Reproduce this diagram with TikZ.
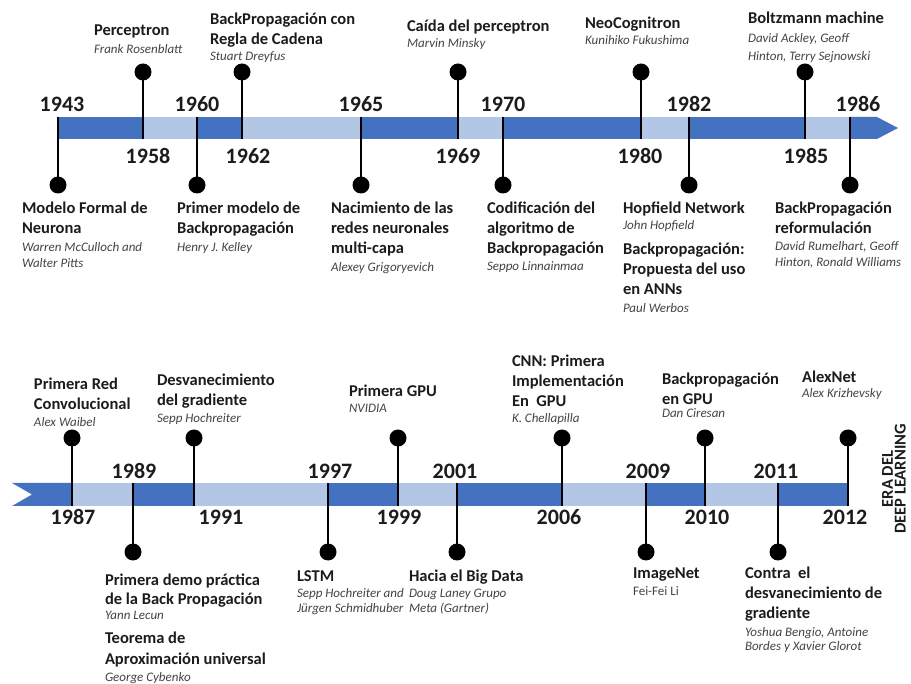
\documentclass[tikz,border=0pt]{standalone}
\usepackage{fontspec}
\setmainfont{Carlito}
\definecolor{bardark}{RGB}{68,114,192}
\definecolor{barlight}{RGB}{180,198,230}
\definecolor{ink}{RGB}{28,28,28}
\definecolor{namegray}{RGB}{68,68,68}
\newcommand\tstr{\rule{0pt}{14pt}}
\newcommand\nstr{\rule{0pt}{11.2pt}}
\tikzset{
  ttl/.style={anchor=north west, inner sep=0pt, outer sep=0pt, align=left, text=ink, yshift=14pt,
    font=\bfseries\fontsize{16.5}{20}\selectfont},
  nm/.style={anchor=north west, inner sep=0pt, outer sep=0pt, align=left, text=namegray, yshift=11.2pt,
    font=\itshape\fontsize{13}{16}\selectfont},
  nmup/.style={nm, font=\upshape\fontsize{13}{16}\selectfont},
  yr/.style={anchor=base, inner sep=0pt, text=ink, font=\bfseries\fontsize{22}{26}\selectfont},
  dot/.style={circle, fill=black, inner sep=0pt, minimum size=17pt},
  stem/.style={draw=black, line width=1.8pt},
}
\begin{document}
\begin{tikzpicture}[x=1pt,y=-1pt]
\fill[white] (0,0) rectangle (911,684);
\useasboundingbox (0,0) rectangle (911,684);

% ---------- bar edges ----------
\coordinate (at) at (0,117); \coordinate (ab) at (0,139);
\coordinate (bt) at (0,483); \coordinate (bb) at (0,506);

% ---------- top ticks ----------
\coordinate (t1943) at (58,117);  \coordinate (t1958) at (143,139);
\coordinate (t1960) at (197,117); \coordinate (t1962) at (242,139);
\coordinate (t1965) at (361,117); \coordinate (t1969) at (458,139);
\coordinate (t1970) at (503,117); \coordinate (t1980) at (641,139);
\coordinate (t1982) at (689,117); \coordinate (t1985) at (805,139);
\coordinate (t1986) at (850,117);
% ---------- bottom ticks ----------
\coordinate (t1987) at (72,506);  \coordinate (t1989) at (133,483);
\coordinate (t1991) at (194,506); \coordinate (t1997) at (328,483);
\coordinate (t1999) at (398,506); \coordinate (t2001) at (457,483);
\coordinate (t2006) at (562,506); \coordinate (t2009) at (646,483);
\coordinate (t2010) at (705,506); \coordinate (t2011) at (778,483);
\coordinate (t2012) at (848,506);

% ---------- top bar ----------
\fill[bardark]  (t1943 |- at) rectangle (t1958 |- ab);
\fill[barlight] (t1958 |- at) rectangle (t1960 |- ab);
\fill[bardark]  (t1960 |- at) rectangle (t1962 |- ab);
\fill[barlight] (t1962 |- at) rectangle (t1965 |- ab);
\fill[bardark]  (t1965 |- at) rectangle (t1969 |- ab);
\fill[barlight] (t1969 |- at) rectangle (t1970 |- ab);
\fill[bardark]  (t1970 |- at) rectangle (t1980 |- ab);
\fill[barlight] (t1980 |- at) rectangle (t1982 |- ab);
\fill[bardark]  (t1982 |- at) rectangle (t1985 |- ab);
\fill[barlight] (t1985 |- at) rectangle (t1986 |- ab);
\fill[bardark]  (t1986 |- at) -- (877,117) -- (898,128) -- (877,139) -- (t1986 |- ab) -- cycle;

% ---------- bottom bar ----------
\fill[bardark]  (12,483) -- (t1987 |- bt) -- (t1987 |- bb) -- (12,506) -- (32,494.5) -- cycle;
\fill[barlight] (t1987 |- bt) rectangle (t1989 |- bb);
\fill[bardark]  (t1989 |- bt) rectangle (t1991 |- bb);
\fill[barlight] (t1991 |- bt) rectangle (t1997 |- bb);
\fill[bardark]  (t1997 |- bt) rectangle (t1999 |- bb);
\fill[barlight] (t1999 |- bt) rectangle (t2001 |- bb);
\fill[bardark]  (t2001 |- bt) rectangle (t2006 |- bb);
\fill[barlight] (t2006 |- bt) rectangle (t2009 |- bb);
\fill[bardark]  (t2009 |- bt) rectangle (t2010 |- bb);
\fill[barlight] (t2010 |- bt) rectangle (t2011 |- bb);
\fill[bardark]  (t2011 |- bt) rectangle (t2012 |- bb);

% ---------- top dots ----------
\node[dot] (d1943) at (58,185) {};
\node[dot] (d1958) at (143,72) {};
\node[dot] (d1960) at (197,185) {};
\node[dot] (d1962) at (242,72) {};
\node[dot] (d1965) at (361,185) {};
\node[dot] (d1969) at (458,72) {};
\node[dot] (d1970) at (503,185) {};
\node[dot] (d1980) at (641,72) {};
\node[dot] (d1982) at (689,185) {};
\node[dot] (d1985) at (805,72) {};
\node[dot] (d1986) at (850,185) {};
\foreach \yy in {1943,1958,1960,1962,1965,1969,1970,1980,1982,1985,1986}
  \draw[stem] (t\yy) -- (d\yy.center);

% ---------- bottom dots ----------
\node[dot] (d1987) at (72,438) {};
\node[dot] (d1989) at (133,552) {};
\node[dot] (d1991) at (194,438) {};
\node[dot] (d1997) at (328,552) {};
\node[dot] (d1999) at (398,438) {};
\node[dot] (d2001) at (457,552) {};
\node[dot] (d2006) at (562,438) {};
\node[dot] (d2009) at (646,552) {};
\node[dot] (d2010) at (705,438) {};
\node[dot] (d2011) at (778,552) {};
\node[dot] (d2012) at (848,438) {};
\foreach \yy in {1987,1989,1991,1997,1999,2001,2006,2009,2010,2011,2012}
  \draw[stem] (t\yy) -- (d\yy.center);

% ---------- years ----------
\node[yr] (y1943) at (62,112) {1943};
\node[yr] (y1960) at (197,112) {1960};
\node[yr] (y1965) at (361,112) {1965};
\node[yr] (y1970) at (503,112) {1970};
\node[yr] (y1982) at (689,112) {1982};
\node[yr] (y1986) at (858,112) {1986};
\node[yr] (y1958) at (148,164) {1958};
\node[yr] (y1962) at (248,164) {1962};
\node[yr] (y1969) at (458,164) {1969};
\node[yr] (y1980) at (640,164) {1980};
\node[yr] (y1985) at (806,164) {1985};

\node[yr] (y1989) at (134,479) {1989};
\node[yr] (y1997) at (330,479) {1997};
\node[yr] (y2001) at (455,479) {2001};
\node[yr] (y2009) at (648,479) {2009};
\node[yr] (y2011) at (776,479) {2011};
\node[yr] (y1987) at (73,525) {1987};
\node[yr] (y1991) at (221,525) {1991};
\node[yr] (y1999) at (399,525) {1999};
\node[yr] (y2006) at (559,525) {2006};
\node[yr] (y2010) at (707,525) {2010};
\node[yr] (y2012) at (845,525) {2012};

% ---------- top events above ----------
\node[ttl] (p1) at (94,36) {\tstr Perceptron};
\node[nm]  (p1n) at (94,54) {\nstr Frank Rosenblatt};
\node[ttl] (p2) at (210,25) {\tstr BackPropagación con\\Regla de Cadena};
\node[nm]  (p2n) at (210,61) {\nstr Stuart Dreyfus};
\node[ttl] (p3) at (407,32) {\tstr Caída del perceptron};
\node[nm]  (p3n) at (407,48) {\nstr Marvin Minsky};
\node[ttl] (p4) at (585,29) {\tstr NeoCognitron};
\node[nm]  (p4n) at (585,45) {\nstr Kunihiko Fukushima};
\node[ttl] (p5) at (748,24) {\tstr Boltzmann machine};
\node[nm]  (p5n) at (748,43) {\nstr David Ackley, Geoff\\[2pt]Hinton, Terry Sejnowski};

% ---------- top events below ----------
\node[ttl] (q1) at (22,214) {\tstr Modelo Formal de\\Neurona};
\node[nm]  (q1n) at (22,252) {\nstr Warren McCulloch and\\Walter Pitts};
\node[ttl] (q2) at (177,214) {\tstr Primer modelo de\\Backpropagación};
\node[nm]  (q2n) at (177,252) {\nstr Henry J. Kelley};
\node[ttl] (q3) at (331,214) {\tstr Nacimiento de las\\redes neuronales\\multi-capa};
\node[nm]  (q3n) at (331,272) {\nstr Alexey Grigoryevich};
\node[ttl] (q4) at (487,214) {\tstr Codificación del\\algoritmo de\\Backpropagación};
\node[nm]  (q4n) at (487,271) {\nstr Seppo Linnainmaa};
\node[ttl] (q5) at (623,214) {\tstr Hopfield Network};
\node[nm]  (q5n) at (623,230) {\nstr John Hopfield};
\node[ttl] (q5b) at (623,255) {\tstr Backpropagación:\\Propuesta del uso\\en ANNs};
\node[nm]  (q5bn) at (623,313) {\nstr Paul Werbos};
\node[ttl] (q6) at (775,214) {\tstr BackPropagación\\reformulación};
\node[nm]  (q6n) at (775,251) {\nstr David Rumelhart, Geoff\\Hinton, Ronald Williams};

% ---------- bottom events above ----------
\node[ttl] (r1) at (34,390) {\tstr Primera Red\\Convolucional};
\node[nm]  (r1n) at (34,427) {\nstr Alex Waibel};
\node[ttl] (r2) at (157,386) {\tstr Desvanecimiento\\del gradiente};
\node[nm]  (r2n) at (157,423) {\nstr Sepp Hochreiter};
\node[ttl] (r3) at (349,397) {\tstr Primera GPU};
\node[nm]  (r3n) at (349,413) {\nstr NVIDIA};
\node[ttl] (r4) at (512,367) {\tstr CNN: Primera\\Implementación\\En\ \ GPU};
\node[nm]  (r4n) at (512,423) {\nstr K. Chellapilla};
\node[ttl] (r5) at (662,385) {\tstr Backpropagación\\en GPU};
\node[nm]  (r5n) at (662,418) {\nstr Dan Ciresan};
\node[ttl] (r6) at (802,383) {\tstr AlexNet};
\node[nm]  (r6n) at (802,398) {\nstr Alex Krizhevsky};

% ---------- bottom events below ----------
\node[ttl] (s1) at (105,585) {\tstr Primera demo práctica\\[-1pt]de la Back Propagación};
\node[nm]  (s1n) at (105,619) {\nstr Yann Lecun};
\node[ttl] (s1b) at (105,643) {\tstr Teorema de\\[1pt]Aproximación universal};
\node[nm]  (s1bn) at (105,681) {\nstr George Cybenko};
\node[ttl] (s2) at (297,581) {\tstr LSTM};
\node[nm]  (s2n) at (297,597) {\nstr Sepp Hochreiter and\\[-1pt]Jürgen Schmidhuber};
\node[ttl] (s3) at (409,581) {\tstr Hacia el Big Data};
\node[nm]  (s3n) at (409,597) {\nstr Doug Laney Grupo\\[-1pt]Meta (Gartner)};
\node[ttl] (s4) at (633,578) {\tstr ImageNet};
\node[nmup] (s4n) at (633,595) {\nstr Fei-Fei Li};
\node[ttl] (s5) at (745,578) {\tstr Contra\ \ el\\desvanecimiento de\\gradiente};
\node[nm]  (s5n) at (745,636) {\nstr Yoshua Bengio, Antoine\\[-2pt]Bordes y Xavier Glorot};

% ---------- vertical label ----------
\node[rotate=90, align=center, inner sep=0pt, text=ink,
      font=\bfseries\fontsize{16.5}{12.8}\selectfont] (era) at (894,479) {ERA DEL\\DEEP LEARNING};
\end{tikzpicture}
\end{document}
